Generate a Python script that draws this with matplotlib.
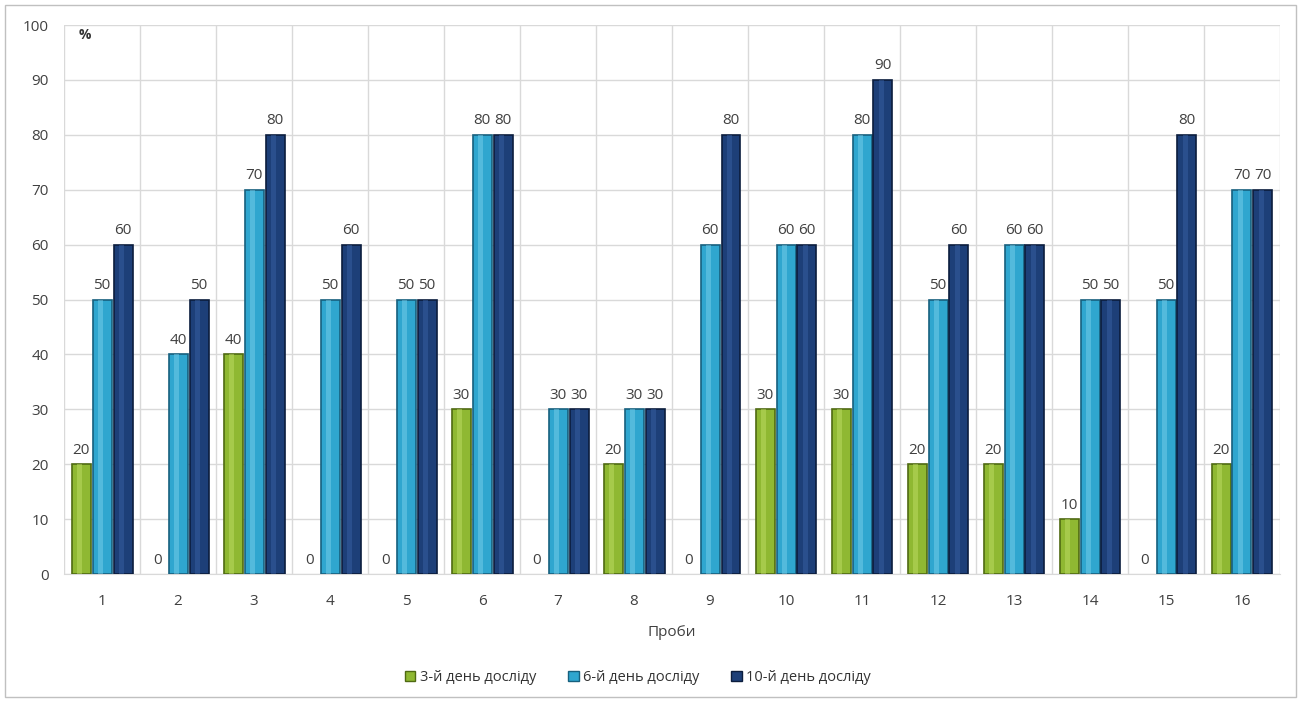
import numpy as np
import matplotlib.pyplot as plt
from matplotlib.patches import Rectangle, Patch

plt.rcParams['font.family'] = ['Open Sans', 'DejaVu Sans']

samples = [str(i) for i in range(1, 17)]
day3 = [20, 0, 40, 0, 0, 30, 0, 20, 0, 30, 30, 20, 20, 10, 0, 20]
day6 = [50, 40, 70, 50, 50, 80, 30, 30, 60, 60, 80, 50, 60, 50, 50, 70]
day10 = [60, 50, 80, 60, 50, 80, 30, 30, 80, 60, 90, 60, 60, 50, 80, 70]
series_names = ["3-й день досліду", "6-й день досліду", "10-й день досліду"]

faces = ["#8fb832", "#2fa6cf", "#1d3f78"]
edges = ["#4f6a12", "#17607e", "#0b1d3d"]
shine = ["#c4e06a", "#7fd3ee", "#3a64a8"]

fig = plt.figure(figsize=(13.02, 7.01), dpi=100)
ax = fig.add_axes([0.0492, 0.181, 0.9339, 0.7833])

# outer chart frame
fig.patches.append(Rectangle((5 / 1302, 4 / 701), 1291 / 1302, 692 / 701,
                             transform=fig.transFigure, fill=False,
                             edgecolor="#c0c0c0", linewidth=1.0))

x = np.arange(len(samples))
offsets = [-0.276, 0.0, 0.276]
width = 0.25
for vals, off, fc, ec, sc in zip([day3, day6, day10], offsets, faces, edges, shine):
    lw = [1.2 if v > 0 else 0 for v in vals]
    ax.bar(x + off, vals, width, color=fc, edgecolor=ec, linewidth=lw, zorder=3)
    # glossy strip down the middle of each bar
    ax.bar(x + off - 0.02, vals, width * 0.25, color=sc, alpha=0.45,
           linewidth=0, zorder=4)
    for xi, v in zip(x + off, vals):
        ax.text(xi, v + 1.2, str(v), ha="center", va="bottom",
                fontsize=11, color="#404040", zorder=5)

ax.set_xlim(-0.5, len(samples) - 0.5)
ax.set_ylim(0, 100)
ax.set_yticks(range(0, 101, 10))
ax.set_xticks(x)
ax.set_xticklabels(samples)
ax.set_xticks(np.arange(-0.5, len(samples)), minor=True)
ax.grid(True, which="major", axis="y", color="#d9d9d9", linewidth=1.0, zorder=0)
ax.grid(True, which="minor", axis="x", color="#d9d9d9", linewidth=1.0, zorder=0)
ax.tick_params(axis="both", which="both", length=0, labelsize=11,
               labelcolor="#404040")
ax.tick_params(axis="x", pad=14)
ax.tick_params(axis="y", pad=11)
for s in ["top", "right", "left"]:
    ax.spines[s].set_visible(False)
ax.spines["bottom"].set_color("#d9d9d9")

ax.text(0.012, 0.995, "%", transform=ax.transAxes, ha="left", va="top",
        fontsize=10, fontweight="bold", color="#333333")
ax.set_xlabel("Проби", fontsize=11, color="#404040", labelpad=12)

handles = [Patch(facecolor=fc, edgecolor=ec) for fc, ec in zip(faces, edges)]
fig.legend(handles, series_names, loc="center", bbox_to_anchor=(0.49, 0.033),
           ncol=3, frameon=False, fontsize=10.5, handlelength=0.7,
           handleheight=0.7, handletextpad=0.3, columnspacing=2.2,
           labelcolor="#333333")

fig.savefig("out.png", dpi=100)
